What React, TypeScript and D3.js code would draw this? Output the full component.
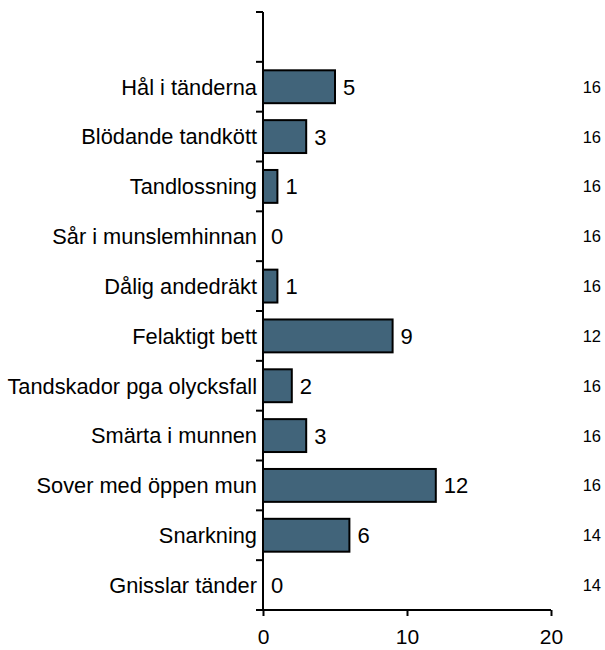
import React, { useEffect, useRef } from 'react';
import * as d3 from 'd3';

// categories top to bottom (the first band is left empty)
const categories = [
  'Hål i tänderna',
  'Blödande tandkött',
  'Tandlossning',
  'Sår i munslemhinnan',
  'Dålig andedräkt',
  'Felaktigt bett',
  'Tandskador pga olycksfall',
  'Smärta i munnen',
  'Sover med öppen mun',
  'Snarkning',
  'Gnisslar tänder',
];
const counts = [5, 3, 1, 0, 1, 9, 2, 3, 12, 6, 0];
const totals = [16, 16, 16, 16, 16, 12, 16, 16, 16, 14, 14];
const xTicks = [0, 10, 20];

export default function App() {
  const ref = useRef<SVGSVGElement>(null);

  useEffect(() => {
    const width = 605;
    const height = 650;
    const margin = { top: 12, left: 263, right: 54, bottom: 40 };
    const svg = d3.select(ref.current);
    svg.selectAll('*').remove();

    const x = d3.scaleLinear()
      .domain([0, 20])
      .range([margin.left, width - margin.right]);

    // extra empty slot at the top, like the original
    const y = d3.scaleBand<string>()
      .domain(['', ...categories])
      .range([margin.top, height - margin.bottom])
      .paddingInner(0)
      .paddingOuter(0);
    const pad = y.bandwidth() * 0.17;
    const font = 'Arial, "Liberation Sans", sans-serif';
    const data = categories.map((c, i) => ({ c, v: counts[i], t: totals[i] }));

    // bars
    svg.append('g')
      .selectAll('rect')
      .data(data)
      .join('rect')
      .attr('x', x(0))
      .attr('y', d => y(d.c)! + pad)
      .attr('width', d => x(d.v) - x(0))
      .attr('height', y.bandwidth() - pad * 2)
      .attr('fill', '#41647a')
      .attr('stroke', d => (d.v > 0 ? '#000' : 'none'))
      .attr('stroke-width', 2);

    // value labels
    svg.append('g')
      .selectAll('text')
      .data(data)
      .join('text')
      .attr('x', d => x(d.v) + 8)
      .attr('y', d => y(d.c)! + y.bandwidth() / 2)
      .attr('dy', '0.36em')
      .attr('font-family', font)
      .attr('font-size', 22)
      .text(d => d.v);

    // totals column on the right
    svg.append('g')
      .selectAll('text')
      .data(data)
      .join('text')
      .attr('x', 601)
      .attr('y', d => y(d.c)! + y.bandwidth() / 2)
      .attr('dy', '0.36em')
      .attr('text-anchor', 'end')
      .attr('font-family', font)
      .attr('font-size', 16.5)
      .text(d => d.t);

    // y axis
    const yAxis = svg.append('g');
    yAxis.append('line')
      .attr('x1', x(0)).attr('x2', x(0))
      .attr('y1', margin.top).attr('y2', height - margin.bottom)
      .attr('stroke', '#000').attr('stroke-width', 2);
    yAxis.selectAll('line.tick')
      .data(y.domain())
      .join('line')
      .attr('class', 'tick')
      .attr('x1', x(0) - 7).attr('x2', x(0))
      .attr('y1', d => y(d)!).attr('y2', d => y(d)!)
      .attr('stroke', '#000').attr('stroke-width', 2);
    yAxis.selectAll('text')
      .data(categories)
      .join('text')
      .attr('x', x(0) - 6)
      .attr('y', d => y(d)! + y.bandwidth() / 2)
      .attr('dy', '0.36em')
      .attr('text-anchor', 'end')
      .attr('font-family', font)
      .attr('font-size', 21.8)
      .text(d => d);

    // x axis
    const xAxis = g => g
      .attr('transform', `translate(0,${height - margin.bottom})`)
      .call(d3.axisBottom(x).tickValues(xTicks).tickSize(6).tickSizeOuter(0).tickPadding(13))
      .call(g => g.select('.domain').attr('d', `M${x(0) - 7},0H${x(20)}`))
      .call(g => g.selectAll('line, path').attr('stroke', '#000').attr('stroke-width', 2))
      .call(g => g.selectAll('text').attr('font-family', font).attr('font-size', 21).attr('fill', '#000'));
    svg.append('g').call(xAxis);
  }, []);

  return (
    <svg
      ref={ref}
      width={605}
      height={650}
      style={{ position: 'absolute', left: 0, top: 0, background: '#fff' }}
    />
  );
}
